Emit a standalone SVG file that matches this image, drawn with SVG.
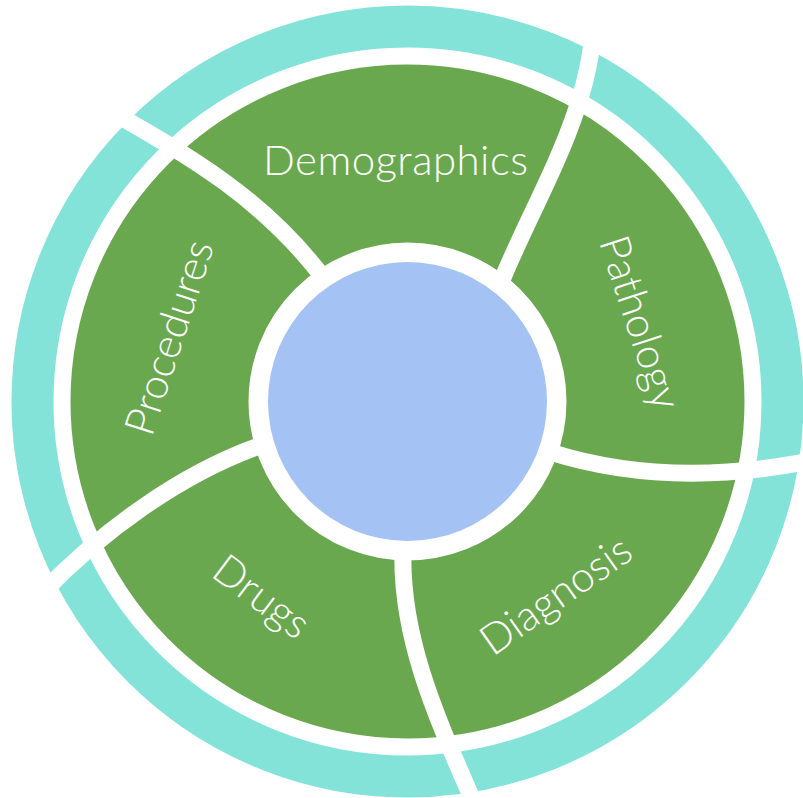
<svg xmlns="http://www.w3.org/2000/svg" width="803" height="798" viewBox="0 0 803 798">
<style>
.teal{fill:none;stroke:#84E3D9;stroke-width:42}
.green{fill:none;stroke:#6AA84F;stroke-width:178}
.sep{fill:none;stroke:#FFFFFF;stroke-width:17;stroke-linecap:butt}
.lbl{font-family:Lato,"Liberation Sans",sans-serif;font-weight:300;font-size:42px;fill:#FFFFFF;text-anchor:middle}
</style>
<rect x="0" y="0" width="803" height="798" fill="#FFFFFF"/>
<g id="outer-ring"><circle class="teal" cx="407.5" cy="401.5" r="375"/></g>
<g id="segment-ring"><circle class="green" cx="407.5" cy="401.5" r="248"/></g>
<g id="connectors">
<path class="sep" d="M502,280 C539,190 598,102 594,0"/>
<path class="sep" d="M325,280 C265,200 193,158 105,108"/>
<path class="sep" d="M262,445 C179,474 100,533 40,595"/>
<path class="sep" d="M403,550 C400,643 442,729 478,812"/>
<path class="sep" d="M550,452 C635,479 727,478 815,460"/>
</g>
<g id="center"><circle cx="407.5" cy="401.5" r="139.5" fill="#A4C2F4"/></g>
<g id="demographics"><text class="lbl" x="395.5" y="175" textLength="265">Demographics</text></g>
<g id="pathology"><text class="lbl" transform="translate(626.5,327) rotate(72)">Pathology</text></g>
<g id="diagnosis"><text class="lbl" transform="translate(564,607) rotate(-35)">Diagnosis</text></g>
<g id="drugs"><text class="lbl" transform="translate(253,608) rotate(37)">Drugs</text></g>
<g id="procedures"><text class="lbl" transform="translate(183,342) rotate(-72)">Procedures</text></g>
</svg>
